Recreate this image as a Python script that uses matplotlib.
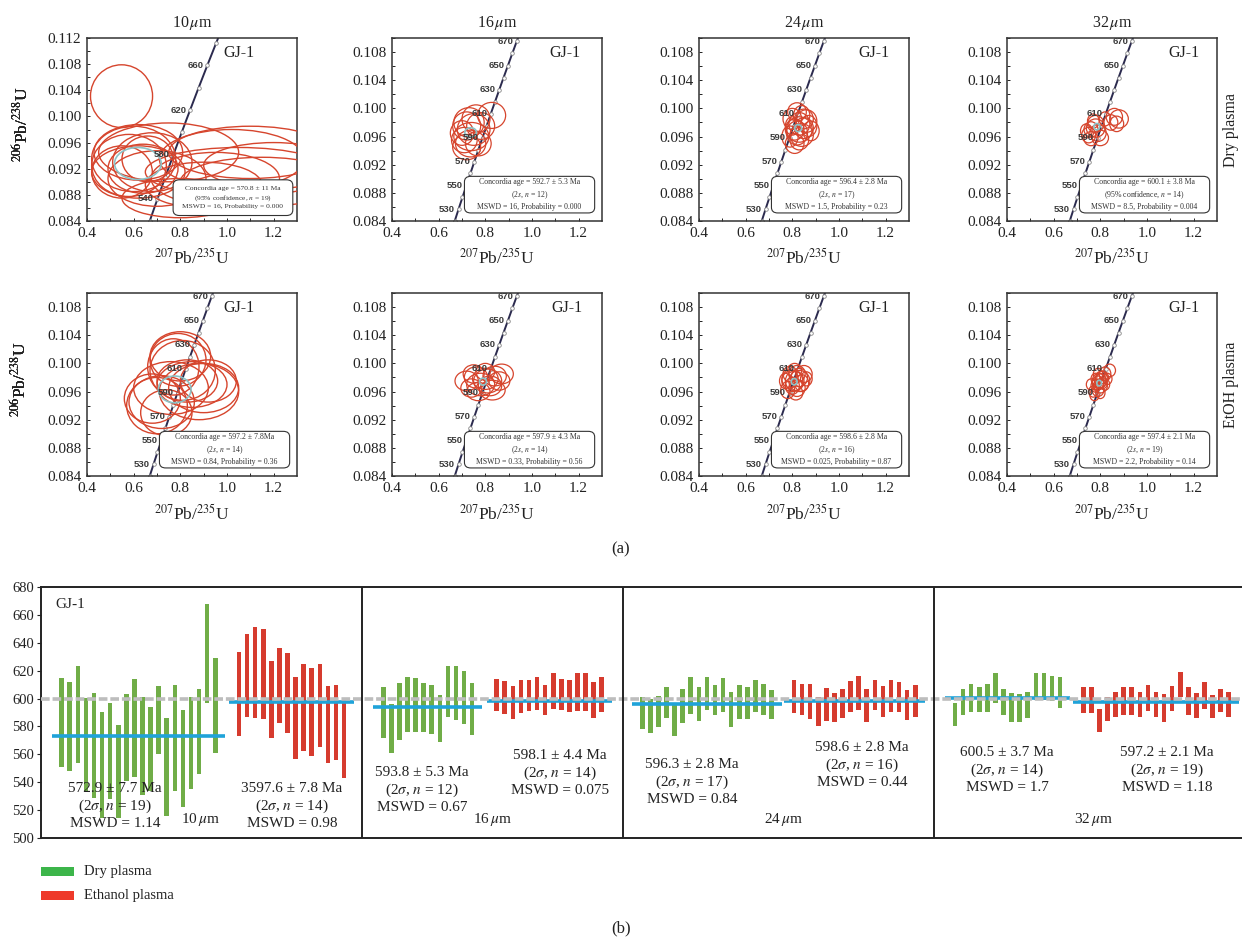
import numpy as np
import matplotlib
matplotlib.use('Agg')
import matplotlib.pyplot as plt
from matplotlib.patches import Ellipse, FancyBboxPatch, Rectangle

plt.rcParams['font.family'] = ['Liberation Serif', 'DejaVu Serif']
plt.rcParams['mathtext.fontset'] = 'stix'

# ---------------- DATA: concordia panels (ellipses: centre x, centre y, width, height) ----------------
dry10_cx = [0.548, 0.60, 0.62, 0.58, 0.64, 0.55, 0.68, 0.70, 0.62, 0.66, 1.02, 1.10, 1.05, 0.95, 1.20, 0.90, 1.15, 0.80, 0.75]
dry10_cy = [0.1031, 0.0935, 0.0915, 0.0925, 0.0920, 0.0915, 0.0930, 0.0905, 0.0945, 0.0935, 0.0935, 0.0945, 0.0915, 0.0905, 0.0925, 0.0895, 0.0900, 0.0875, 0.0945]
dry10_w = [0.266, 0.36, 0.40, 0.32, 0.30, 0.26, 0.34, 0.42, 0.38, 0.22, 0.62, 0.70, 0.80, 0.55, 0.60, 0.50, 0.70, 0.50, 0.60]
dry10_h = [0.0096, 0.0100, 0.0080, 0.0095, 0.0075, 0.0080, 0.0090, 0.0085, 0.0085, 0.0070, 0.0090, 0.0080, 0.0075, 0.0080, 0.0070, 0.0070, 0.0075, 0.0060, 0.0090]

dry16_cx = [0.827, 0.737, 0.72, 0.75, 0.70, 0.76, 0.74, 0.71, 0.78, 0.73, 0.77, 0.72]
dry16_cy = [0.0990, 0.0950, 0.0975, 0.0970, 0.0965, 0.0985, 0.0960, 0.0955, 0.0975, 0.0980, 0.0950, 0.0945]
dry16_w = [0.12, 0.13, 0.12, 0.14, 0.10, 0.12, 0.15, 0.11, 0.12, 0.13, 0.11, 0.12]
dry16_h = [0.0037, 0.0038, 0.0040, 0.0045, 0.0035, 0.0040, 0.0040, 0.0036, 0.0038, 0.0042, 0.0035, 0.0036]

dry24_cx = [0.80, 0.83, 0.85, 0.82, 0.84, 0.81, 0.86, 0.79, 0.83, 0.87, 0.82, 0.84, 0.80, 0.85, 0.83, 0.88, 0.81]
dry24_cy = [0.0985, 0.0978, 0.0972, 0.0965, 0.0990, 0.0970, 0.0982, 0.0960, 0.0955, 0.0975, 0.0995, 0.0962, 0.0975, 0.0985, 0.0970, 0.0968, 0.0950]
dry24_w = [0.08, 0.09, 0.08, 0.09, 0.07, 0.08, 0.09, 0.07, 0.08, 0.07, 0.08, 0.10, 0.06, 0.08, 0.11, 0.07, 0.08]
dry24_h = [0.0030, 0.0032, 0.0030, 0.0034, 0.0028, 0.0030, 0.0032, 0.0030, 0.0028, 0.0030, 0.0026, 0.0032, 0.0026, 0.0028, 0.0036, 0.0028, 0.0028]

dry32_cx = [0.86, 0.88, 0.845, 0.87, 0.78, 0.76, 0.79, 0.75, 0.78, 0.80, 0.77, 0.74, 0.76, 0.82]
dry32_cy = [0.0988, 0.0985, 0.0980, 0.0978, 0.0978, 0.0970, 0.0965, 0.0962, 0.0972, 0.0958, 0.0982, 0.0968, 0.0957, 0.0985]
dry32_w = [0.07, 0.08, 0.06, 0.06, 0.07, 0.06, 0.07, 0.06, 0.08, 0.07, 0.05, 0.05, 0.06, 0.05]
dry32_h = [0.0024, 0.0026, 0.0022, 0.0022, 0.0024, 0.0022, 0.0024, 0.0022, 0.0026, 0.0022, 0.0020, 0.0020, 0.0020, 0.0020]

eth10_cx = [0.79, 0.80, 0.77, 0.81, 0.70, 0.72, 0.68, 0.90, 0.88, 0.85, 0.74, 0.83, 0.76, 0.92]
eth10_cy = [0.1005, 0.1010, 0.0995, 0.0990, 0.0940, 0.0945, 0.0950, 0.0965, 0.0960, 0.0970, 0.0930, 0.0975, 0.0965, 0.0975]
eth10_w = [0.24, 0.26, 0.22, 0.28, 0.26, 0.28, 0.24, 0.30, 0.34, 0.30, 0.22, 0.26, 0.32, 0.24]
eth10_h = [0.0075, 0.0070, 0.0080, 0.0085, 0.0080, 0.0075, 0.0070, 0.0070, 0.0080, 0.0065, 0.0065, 0.0060, 0.0075, 0.0060]

eth16_cx = [0.72, 0.76, 0.80, 0.84, 0.87, 0.78, 0.82, 0.74, 0.86, 0.80, 0.77, 0.83, 0.75, 0.81]
eth16_cy = [0.0975, 0.0980, 0.0978, 0.0982, 0.0985, 0.0970, 0.0968, 0.0965, 0.0975, 0.0988, 0.0960, 0.0962, 0.0985, 0.0975]
eth16_w = [0.10, 0.10, 0.11, 0.10, 0.10, 0.12, 0.10, 0.09, 0.09, 0.08, 0.10, 0.11, 0.09, 0.12]
eth16_h = [0.0028, 0.0030, 0.0030, 0.0028, 0.0028, 0.0032, 0.0028, 0.0026, 0.0026, 0.0024, 0.0026, 0.0028, 0.0026, 0.0034]

eth24_cx = [0.79, 0.81, 0.83, 0.80, 0.82, 0.78, 0.84, 0.81, 0.85, 0.79, 0.82, 0.80, 0.83, 0.77, 0.86, 0.815]
eth24_cy = [0.0978, 0.0975, 0.0980, 0.0968, 0.0985, 0.0962, 0.0972, 0.0990, 0.0985, 0.0985, 0.0965, 0.0975, 0.0975, 0.0975, 0.0978, 0.0958]
eth24_w = [0.07, 0.08, 0.07, 0.06, 0.07, 0.06, 0.06, 0.06, 0.07, 0.06, 0.07, 0.09, 0.09, 0.05, 0.05, 0.06]
eth24_h = [0.0026, 0.0028, 0.0026, 0.0024, 0.0024, 0.0024, 0.0024, 0.0020, 0.0024, 0.0022, 0.0024, 0.0030, 0.0030, 0.0022, 0.0020, 0.0020]

eth32_cx = [0.79, 0.80, 0.78, 0.81, 0.82, 0.84, 0.79, 0.77, 0.80, 0.81, 0.78, 0.83, 0.80, 0.76, 0.82, 0.79, 0.805, 0.775, 0.795]
eth32_cy = [0.0972, 0.0975, 0.0968, 0.0980, 0.0985, 0.0990, 0.0962, 0.0960, 0.0968, 0.0972, 0.0978, 0.0978, 0.0958, 0.0970, 0.0970, 0.0985, 0.0980, 0.0955, 0.0975]
eth32_w = [0.05, 0.05, 0.04, 0.05, 0.05, 0.05, 0.05, 0.04, 0.06, 0.04, 0.04, 0.04, 0.04, 0.04, 0.04, 0.04, 0.05, 0.04, 0.06]
eth32_h = [0.0020, 0.0020, 0.0018, 0.0018, 0.0020, 0.0018, 0.0018, 0.0016, 0.0020, 0.0016, 0.0016, 0.0016, 0.0016, 0.0016, 0.0016, 0.0016, 0.0018, 0.0016, 0.0022]

# concordia-age ellipses (cx, cy, w, h) per panel
age_cx = [0.618, 0.737, 0.825, 0.785, 0.776, 0.79, 0.808, 0.795]
age_cy = [0.0928, 0.0966, 0.0972, 0.0974, 0.0963, 0.0974, 0.0974, 0.0972]
age_w = [0.20, 0.05, 0.03, 0.025, 0.14, 0.03, 0.025, 0.02]
age_h = [0.0049, 0.0013, 0.0010, 0.0009, 0.0038, 0.0010, 0.0009, 0.0008]

col_titles = ['10', '16', '24', '32']
row_titles = ['Dry plasma', 'EtOH plasma']
box_texts = [
    'Concordia age = 570.8 ± 11 Ma\n(95% confidence, $n$ = 19)\nMSWD = 16, Probability = 0.000',
    'Concordia age = 592.7 ± 5.3 Ma\n(2$s$, $n$ = 12)\nMSWD = 16, Probability = 0.000',
    'Concordia age = 596.4 ± 2.8 Ma\n(2$s$, $n$ = 17)\nMSWD = 1.5, Probability = 0.23',
    'Concordia age = 600.1 ± 3.8 Ma\n(95% confidence, $n$ = 14)\nMSWD = 8.5, Probability = 0.004',
    'Concordia age = 597.2 ± 7.8Ma\n(2$s$, $n$ = 14)\nMSWD = 0.84, Probability = 0.36',
    'Concordia age = 597.9 ± 4.3 Ma\n(2$s$, $n$ = 14)\nMSWD = 0.33, Probability = 0.56',
    'Concordia age = 598.6 ± 2.8 Ma\n(2$s$, $n$ = 16)\nMSWD = 0.025, Probability = 0.87',
    'Concordia age = 597.4 ± 2.1 Ma\n(2$s$, $n$ = 19)\nMSWD = 2.2, Probability = 0.14',
]
marks_10 = [520, 540, 560, 580, 600, 620, 640, 660, 680]
labels_10 = [540, 580, 620, 660]
marks_std = list(range(520, 690, 10))
labels_std = [530, 550, 570, 590, 610, 630, 650, 670]

# ---------------- DATA: weighted-mean bar chart (age ± 2σ, Ma) ----------------
g10_hi = [615, 612, 623, 600.5, 604, 590, 597, 581, 603, 614, 601, 594, 609, 586, 610, 592, 601, 607, 668, 629]
g10_lo = [551, 548, 554, 534, 529, 514, 528, 514, 541, 544, 531, 534, 560, 516, 534, 522, 535, 546, 597, 561]
r10_hi = [633.5, 646, 651, 650, 627, 636, 633, 615.5, 625, 622, 625, 609, 610, 600]
r10_lo = [573, 587, 586, 585.5, 571.5, 582.5, 575, 557, 562.5, 558.5, 565, 553.5, 556, 543]
g16_hi = [608, 596, 611, 615.5, 614.5, 611, 610, 602.5, 623.5, 623, 620, 611]
g16_lo = [572, 561, 570, 576, 576, 576, 574.5, 569, 586.5, 584.5, 582, 574]
r16_hi = [614, 612.5, 609, 613.5, 613.5, 615.5, 610, 618, 614, 613.5, 618, 618, 612, 615.5]
r16_lo = [591, 589, 585.5, 589.5, 591, 591.5, 588.5, 592.5, 591.5, 590, 591, 591, 586, 590]
g24_hi = [601, 599.5, 601.5, 608, 596.5, 607, 615.5, 608, 615.5, 609.5, 614.5, 605, 610, 608, 613, 610.5, 606]
g24_lo = [578, 575, 579.5, 586, 573, 582.5, 589, 584, 592, 588, 590.5, 579.5, 585.5, 585.5, 590.5, 588, 585.5]
r24_hi = [613.5, 610.5, 610.5, 601, 607.5, 604, 606.5, 612.5, 616, 607, 613.5, 609, 613, 612, 606, 610]
r24_lo = [589.5, 588.5, 585.5, 580, 584, 583, 586, 590, 591.5, 583, 591.5, 587, 590, 590, 584.5, 586.5]
g32_hi = [597, 607, 610.5, 608.5, 610.5, 618, 607, 604, 603, 605, 618, 618, 616.5, 615.5]
g32_lo = [580, 588, 590, 590, 590, 596.5, 588, 583.5, 583, 586, 599, 599, 598.5, 593.5]
r32_hi = [608, 608, 592.5, 601, 605, 608, 608.5, 604.5, 609.5, 605, 603.5, 609, 619, 608, 604, 612, 602.5, 607, 605]
r32_lo = [589.5, 589.5, 576, 584, 586.5, 588, 588.5, 586.5, 591, 587, 583.5, 591, 601, 588.5, 586, 592.5, 586, 590, 587]
means = [572.9, 597.6, 593.8, 598.1, 596.3, 598.6, 600.5, 597.2]
ref_age = 600
group_texts = [
    '572.9 ± 7.7 Ma\n(2$\\sigma$, $n$ = 19)\nMSWD = 1.14',
    '3597.6 ± 7.8 Ma\n(2$\\sigma$, $n$ = 14)\nMSWD = 0.98',
    '593.8 ± 5.3 Ma\n(2$\\sigma$, $n$ = 12)\nMSWD = 0.67',
    '598.1 ± 4.4 Ma\n(2$\\sigma$, $n$ = 14)\nMSWD = 0.075',
    '596.3 ± 2.8 Ma\n(2$\\sigma$, $n$ = 17)\nMSWD = 0.84',
    '598.6 ± 2.8 Ma\n(2$\\sigma$, $n$ = 16)\nMSWD = 0.44',
    '600.5 ± 3.7 Ma\n(2$\\sigma$, $n$ = 14)\nMSWD = 1.7',
    '597.2 ± 2.1 Ma\n(2$\\sigma$, $n$ = 19)\nMSWD = 1.18',
]

# ---------------- FIGURE ----------------
W, H = 1242, 940
fig = plt.figure(figsize=(W / 100, H / 100), dpi=100)


def ax_px(l, t, w, h):
    return fig.add_axes([l / W, 1 - (t + h) / H, w / W, h / H])


def ftext(x, y, s, **kw):
    fig.text(x / W, 1 - y / H, s, **kw)


L238, L235 = 1.55125e-10, 9.8485e-10


def conc(t_ma):
    t = np.asarray(t_ma, dtype=float) * 1e6
    return np.exp(L235 * t) - 1, np.exp(L238 * t) - 1


RED = '#d6452d'
CYAN = '#8cc2c6'
panels = [
    (dry10_cx, dry10_cy, dry10_w, dry10_h),
    (dry16_cx, dry16_cy, dry16_w, dry16_h),
    (dry24_cx, dry24_cy, dry24_w, dry24_h),
    (dry32_cx, dry32_cy, dry32_w, dry32_h),
    (eth10_cx, eth10_cy, eth10_w, eth10_h),
    (eth16_cx, eth16_cy, eth16_w, eth16_h),
    (eth24_cx, eth24_cy, eth24_w, eth24_h),
    (eth32_cx, eth32_cy, eth32_w, eth32_h),
]
lefts = [87, 392, 699, 1007]
tops = [38, 293]
box_ext = [(0.41, 0.03, 0.57, 0.195)] + [(0.345, 0.044, 0.62, 0.20)] * 7
gj_x = [0.65, 0.75, 0.76, 0.77, 0.65, 0.76, 0.76, 0.77]

for k in range(8):
    r, c = divmod(k, 4)
    ax = ax_px(lefts[c], tops[r], 210, 183)
    cx, cy, ew, eh = panels[k]
    first = (k == 0)
    ymax = 0.112 if first else 0.110
    ax.set_xlim(0.4, 1.3)
    ax.set_ylim(0.084, ymax)
    for i in range(len(cx)):
        ax.add_patch(Ellipse((cx[i], cy[i]), ew[i], eh[i], fill=False,
                             edgecolor=RED, lw=1.0 if first or k == 4 else 0.9, zorder=3))
    ax.add_patch(Ellipse((age_cx[k], age_cy[k]), age_w[k], age_h[k], fill=False,
                         edgecolor=CYAN, lw=1.2, zorder=4))
    tt = np.linspace(450, 750, 300)
    xx, yy = conc(tt)
    ax.plot(xx, yy, color='#2b2a4e', lw=1.4, zorder=2)
    marks = marks_10 if first else marks_std
    labs = labels_10 if first else labels_std
    mx, my = conc(marks)
    ax.plot(mx, my, 'o', ms=2.6, mfc='white', mec='#888888', mew=0.6, zorder=2.5)
    lx, ly = conc(labs)
    for a, xv, yv in zip(labs, lx, ly):
        if 0.0845 < yv < ymax:
            ax.annotate(str(a), (xv, yv), xytext=(-2.5, 0), textcoords='offset points',
                        ha='right', va='center', fontsize=6.8, fontfamily='Liberation Sans',
                        fontweight='bold', color='#3a3a3a', zorder=6)
    bx, by, bw, bh = box_ext[k]
    ax.add_patch(FancyBboxPatch((bx, by), bw, bh, boxstyle='round,pad=0,rounding_size=0.03',
                                transform=ax.transAxes, facecolor='white', edgecolor='#333333',
                                lw=0.8, zorder=7))
    ax.text(bx + bw / 2, by + bh / 2, box_texts[k], transform=ax.transAxes, ha='center',
            va='center', fontsize=5.4 if first else 5.6, linespacing=1.35, color='#333333',
            zorder=8)
    ax.text(gj_x[k], 0.92, 'GJ-1', transform=ax.transAxes, ha='left', va='center',
            fontsize=11.5, color='#222222', zorder=8)
    ax.set_xticks([0.4, 0.6, 0.8, 1.0, 1.2])
    ax.set_xticklabels(['0.4', '0.6', '0.8', '1.0', '1.2'])
    yt = np.arange(0.084, ymax + 1e-9, 0.004)
    ax.set_yticks(yt)
    ax.set_yticklabels(['%.3f' % v for v in yt])
    ax.set_xticks(np.arange(0.5, 1.25, 0.2), minor=True)
    ax.set_yticks(np.arange(0.086, ymax, 0.004), minor=True)
    ax.tick_params(which='both', direction='in', labelsize=11, length=2.5, width=0.7,
                   colors='#222222', pad=4)
    for sp in ax.spines.values():
        sp.set_linewidth(1.1)
        sp.set_color('#333333')
    ymid = tops[r] + 91
    ftext(22 if r == 0 else 20, ymid - 5, r'$^{206}$Pb/$^{238}$U', rotation=90, ha='center',
          va='center', fontsize=12.5, color='#222222')
    ftext(lefts[c] + 105, tops[r] + 221 - 38 + 37 + (0 if r == 0 else 1), r'$^{207}$Pb/$^{235}$U',
          ha='center', va='center', fontsize=12.5, color='#222222')
    if r == 0:
        ftext(lefts[c] + 105, 23, col_titles[c] + r'$\,\mu$m', ha='center', va='center',
              fontsize=11.5, color='#222222')
    if c == 3:
        ftext(1231, tops[r] + 92, row_titles[r], rotation=90, ha='center', va='center',
              fontsize=11.5, color='#222222')

ftext(621, 549, '(a)', ha='center', va='center', fontsize=12, color='#222222')
ftext(621, 928, '(b)', ha='center', va='center', fontsize=12, color='#222222')

# ---------------- bar chart ----------------
GREEN = '#70ad47'
BRED = '#d63b2e'
axb = ax_px(41, 587, 1205, 251)
axb.set_xlim(0, 1205)
axb.set_ylim(500, 680)
groups = [(g10_lo, g10_hi, GREEN), (r10_lo, r10_hi, BRED), (g16_lo, g16_hi, GREEN),
          (r16_lo, r16_hi, BRED), (g24_lo, g24_hi, GREEN), (r24_lo, r24_hi, BRED),
          (g32_lo, g32_hi, GREEN), (r32_lo, r32_hi, BRED)]
starts_px = [61.7, 239, 383.3, 496.7, 642.3, 794, 955, 1083.3]
step = 8.08
for gi, (lo, hi, col) in enumerate(groups):
    lo = np.array(lo)
    hi = np.array(hi)
    xs = starts_px[gi] - 41 + step * np.arange(len(lo))
    axb.bar(xs, hi - lo, bottom=lo, width=4.6, color=col, zorder=2)
    axb.plot([xs[0] - 10, xs[-1] + 10], [means[gi]] * 2, color='#1fa3d9', lw=2.6,
             solid_capstyle='butt', zorder=3)
axb.axhline(ref_age, color='#bdbdbd', lw=2.6, dashes=(2.4, 0.8), zorder=4)
for xs_ in [362, 623, 934]:
    axb.axvline(xs_ - 41, color='#222222', lw=1.4, zorder=5)
axb.set_xticks([])
axb.set_yticks(np.arange(500, 681, 20))
axb.tick_params(axis='y', direction='out', length=3, labelsize=10.5, colors='#222222', pad=2)
for sp in axb.spines.values():
    sp.set_linewidth(1.4)
    sp.set_color('#222222')
ftext(55, 605, 'GJ-1', ha='left', va='center', fontsize=11, color='#222222')
text_pos = [(115, 806), (292, 806), (422, 790), (560, 773), (692, 782), (862, 765),
            (1007, 770), (1167, 770)]
for (tx, ty), s in zip(text_pos, group_texts):
    ftext(tx, ty, s, ha='center', va='center', fontsize=11, linespacing=1.25,
          color='#222222', zorder=6)
for tx, s in [(200, '10'), (492, '16'), (783, '24'), (1093, '32')]:
    ftext(tx, 819, s + r'$\,\mu$m', ha='center', va='center', fontsize=11, color='#222222')

# legend
for yy_, col, lab in [(871, '#3cb54a', 'Dry plasma'), (895, '#ee3a2a', 'Ethanol plasma')]:
    fig.add_artist(Rectangle((41 / W, 1 - (yy_ + 5) / H), 33 / W, 9 / H,
                             transform=fig.transFigure, facecolor=col, edgecolor='none'))
    ftext(84, yy_, lab, ha='left', va='center', fontsize=10.5, color='#222222')

fig.savefig('out.png', dpi=100)
